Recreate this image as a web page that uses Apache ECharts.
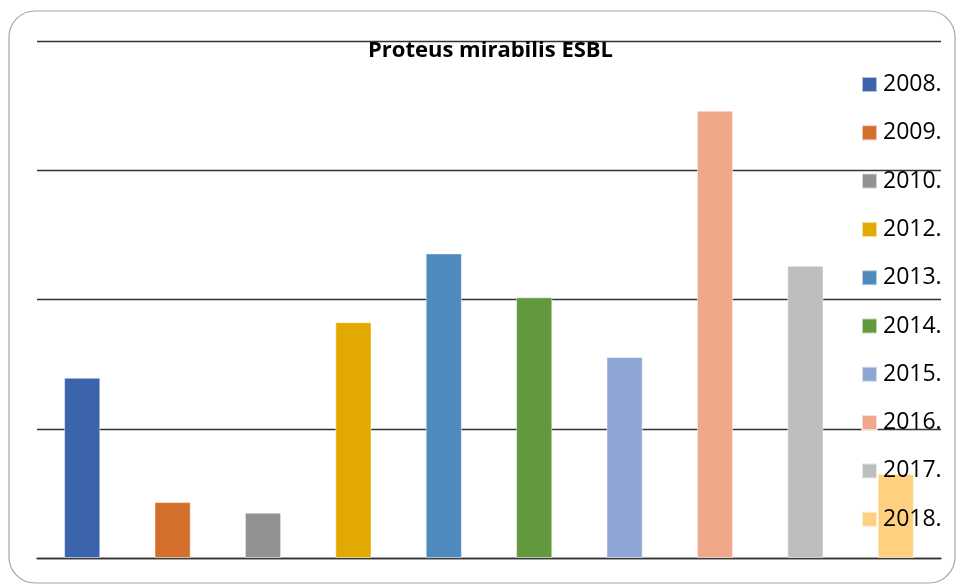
<!DOCTYPE html>
<html>
<head>
<meta charset="utf-8">
<script src="https://cdn.jsdelivr.net/npm/echarts@6/dist/echarts.min.js"></script>
<style>
html,body{margin:0;padding:0;background:#fff;}
#chart{width:958px;height:585px;}
</style>
</head>
<body>
<div id="chart"></div>
<script>
const categories = ['2008.', '2009.', '2010.', '2012.', '2013.', '2014.', '2015.', '2016.', '2017.', '2018.'];
const values = [6.97, 2.16, 1.75, 9.12, 11.78, 10.08, 7.77, 17.3, 11.3, 3.25];
const colors = ['#3C64AD', '#D46E2C', '#929292', '#E2AA00', '#4E8ABE', '#62993E', '#8FA5D4', '#F1A88A', '#BEBEBE', '#FFD07F'];
const yTicks = [0, 5, 10, 15, 20];

const chart = echarts.init(document.getElementById('chart'));
const series = categories.map((name, i) => ({
  name: name,
  type: 'bar',
  barWidth: 36,
  barGap: '-100%',
  itemStyle: { color: colors[i], borderColor: 'rgba(255,255,255,0.6)', borderWidth: 0.8 },
  data: categories.map((c, j) => (j === i ? values[i] : '-'))
}));

chart.setOption({
  animation: false,
  backgroundColor: '#fff',
  title: {
    text: 'Proteus mirabilis ESBL',
    left: 363,
    top: 35,
    textStyle: { fontFamily: 'Open Sans', fontWeight: 'bold', fontSize: 22, color: '#000' }
  },
  graphic: [{
    type: 'rect',
    shape: { x: 9, y: 11, width: 946, height: 572, r: 26 },
    style: { fill: 'none', stroke: '#a6a6a6', lineWidth: 1.2 },
    z: -1
  }],
  legend: {
    orient: 'vertical',
    left: 856,
    top: 68,
    itemWidth: 15,
    itemHeight: 15,
    itemGap: 25.3,
    icon: 'rect',
    data: categories,
    textStyle: { fontFamily: 'Open Sans', fontSize: 23, lineHeight: 22, color: '#000', padding: [0, 0, 0, 1] }
  },
  grid: { left: 37, right: 17, top: 41, bottom: 27, containLabel: false },
  xAxis: {
    type: 'category',
    data: categories,
    axisTick: { show: false },
    axisLabel: { show: false },
    axisLine: { lineStyle: { color: '#333', width: 1.3 } }
  },
  yAxis: {
    type: 'value',
    min: yTicks[0],
    max: yTicks[yTicks.length - 1],
    interval: 5,
    axisLabel: { show: false },
    axisLine: { show: false },
    axisTick: { show: false },
    splitLine: { lineStyle: { color: '#333', width: 1.3 } }
  },
  series: series
});
</script>
</body>
</html>
